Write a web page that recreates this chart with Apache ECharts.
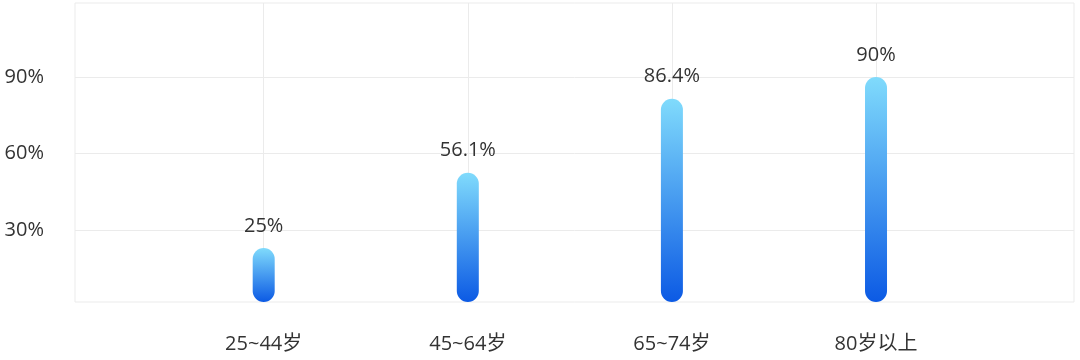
<!DOCTYPE html>
<html>
<head>
<meta charset="utf-8">
<script src="https://cdn.jsdelivr.net/npm/echarts@6/dist/echarts.min.js"></script>
<style>
html,body{margin:0;padding:0;background:#fff;}
#main{width:1080px;height:360px;}
</style>
</head>
<body>
<div id="main"></div>
<script>
const categories = ['25~44岁', '45~64岁', '65~74岁', '80岁以上'];
const barValues = [23, 52.5, 81.5, 90];
const labelTexts = ['25%', '56.1%', '86.4%', '90%'];
const yTicks = [30, 60, 90];

const chart = echarts.init(document.getElementById('main'));
const font = "'Open Sans', 'Noto Sans CJK SC', sans-serif";
const gridColor = '#ebebeb';

chart.setOption({
  animation: false,
  grid: {
    left: 75, right: 6, top: 3, bottom: 58,
    show: true, borderColor: gridColor, borderWidth: 1
  },
  xAxis: {
    type: 'value',
    min: -0.9245, max: 3.97,
    axisLine: { show: false },
    axisTick: { show: false, customValues: categories.map((c, i) => i) },
    splitLine: { show: true, lineStyle: { color: gridColor, width: 1 } },
    axisLabel: {
      customValues: categories.map((c, i) => i),
      formatter: v => categories[Math.round(v)] || '',
      color: '#333', fontSize: 20, fontFamily: font, margin: 32
    }
  },
  yAxis: {
    type: 'value',
    min: 1.8, max: 119,
    axisLine: { show: false },
    axisTick: { show: false, customValues: yTicks },
    splitLine: { show: true, lineStyle: { color: gridColor, width: 1 } },
    axisLabel: {
      customValues: yTicks,
      formatter: '{value}%',
      color: '#333', fontSize: 20, fontFamily: font, margin: 31
    }
  },
  series: [{
    type: 'bar',
    barWidth: 22,
    data: barValues.map((v, i) => [i, v]),
    itemStyle: {
      borderRadius: 11,
      color: new echarts.graphic.LinearGradient(0, 0, 0, 1, [
        { offset: 0, color: '#80DBFC' },
        { offset: 1, color: '#0C5AE4' }
      ])
    },
    label: {
      show: true, position: 'top', distance: 12,
      formatter: p => labelTexts[p.dataIndex],
      color: '#333', fontSize: 20, fontFamily: font
    }
  }]
});
</script>
</body>
</html>
